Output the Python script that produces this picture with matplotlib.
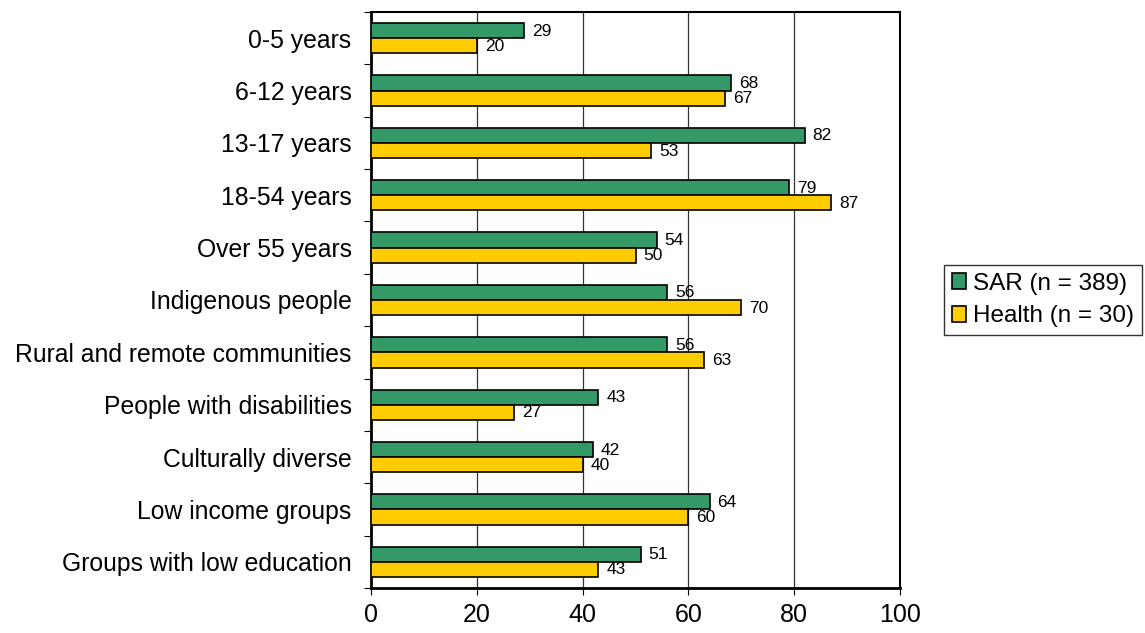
import numpy as np
import matplotlib.pyplot as plt

plt.rcParams['font.family'] = ['Liberation Sans', 'DejaVu Sans']

categories = ['0-5 years', '6-12 years', '13-17 years', '18-54 years', 'Over 55 years',
              'Indigenous people', 'Rural and remote communities', 'People with disabilities',
              'Culturally diverse', 'Low income groups', 'Groups with low education']
sar = [29, 68, 82, 79, 54, 56, 56, 43, 42, 64, 51]
health = [20, 67, 53, 87, 50, 70, 63, 27, 40, 60, 43]
series_names = ['SAR (n = 389)', 'Health (n = 30)']

fig = plt.figure(figsize=(11.45, 6.33), dpi=100)
ax = fig.add_axes([371 / 1145, 45 / 633, 529 / 1145, 576 / 633])

y = np.arange(len(categories))
h = 0.29
ax.barh(y - h / 2, sar, height=h, color='#339966', edgecolor='black', linewidth=1.2,
        label=series_names[0], zorder=3)
ax.barh(y + h / 2, health, height=h, color='#FFCC00', edgecolor='black', linewidth=1.2,
        label=series_names[1], zorder=3)

for i in range(len(categories)):
    ax.text(sar[i] + 1.5, y[i] - h / 2 + 0.01, str(sar[i]), va='center', ha='left', fontsize=12.5)
    ax.text(health[i] + 1.5, y[i] + h / 2 + 0.01, str(health[i]), va='center', ha='left', fontsize=12.5)

ax.set_xlim(0, 100)
ax.set_ylim(len(categories) - 0.5, -0.5)
ax.set_xticks([0, 20, 40, 60, 80, 100])
ax.tick_params(axis='x', labelsize=18, length=5, direction='out', pad=6)

# category labels centred, ticks on boundaries
ax.set_yticks(np.arange(-0.5, len(categories), 1))
ax.set_yticklabels([])
ax.set_yticks(y, minor=True)
ax.set_yticklabels(categories, minor=True, fontsize=17.8)
ax.tick_params(axis='y', which='minor', length=0, pad=14)
ax.tick_params(axis='y', which='major', length=5, direction='out')

ax.xaxis.grid(True, color='#333333', linewidth=0.9, zorder=0)
for s in ['left', 'bottom']:
    ax.spines[s].set_linewidth(2)
for s in ['top', 'right']:
    ax.spines[s].set_linewidth(1.5)

fig.legend(loc='center', bbox_to_anchor=(1043 / 1145, 1 - 300 / 633), fontsize=17.5,
           frameon=True, fancybox=False, edgecolor='black', handlelength=0.6, handleheight=0.6,
           handletextpad=0.3, borderpad=0.3, labelspacing=0.45, borderaxespad=0)

fig.savefig('out.png', dpi=100)
